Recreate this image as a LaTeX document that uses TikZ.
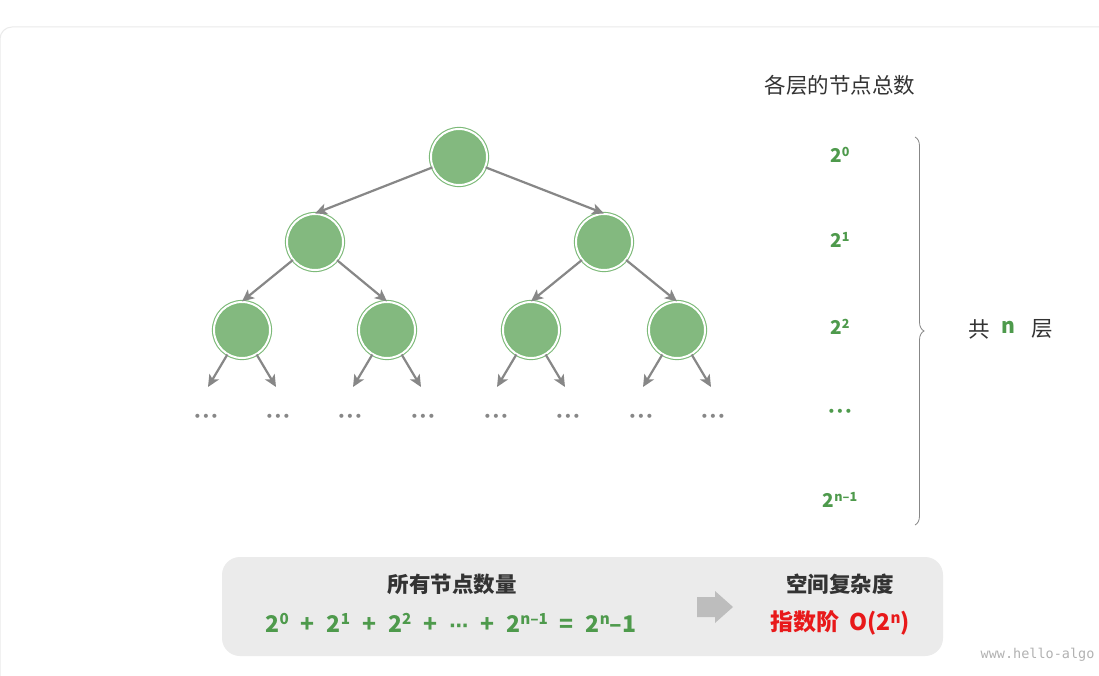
\documentclass[tikz,border=0pt]{standalone}
\usepackage{fontspec}
\setmainfont{Noto Sans CJK SC}
\newfontfamily\monof{DejaVu Sans Mono}
\newfontfamily\djv{DejaVu Sans}
\usetikzlibrary{decorations.pathreplacing,arrows.meta}
\definecolor{nodefill}{HTML}{83B97F}
\definecolor{ring}{HTML}{7DBA79}
\definecolor{arrgray}{HTML}{878787}
\definecolor{gtext}{HTML}{4E9A4C}
\definecolor{dark}{HTML}{333333}
\definecolor{redt}{HTML}{E8191A}
\definecolor{boxfill}{HTML}{EBEBEB}
\newcommand{\supr}[1]{\raisebox{0.6ex}{\scalebox{0.66}{#1}}}
\newcommand{\threedots}{{\djv\fontsize{14}{14}\selectfont •\kern0.3pt•\kern0.3pt•}}
\tikzset{
  tnode/.style={circle, minimum size=56pt, inner sep=0pt, fill=nodefill, draw=ring, line width=1.1pt, double=white, double distance=2pt},
  arr/.style={draw=arrgray, line width=2.2pt, -{Stealth[length=12pt,width=11pt,inset=3pt]}},
  dots/.style={text=arrgray},
  lbl/.style={text=gtext, font=\bfseries\fontsize{19}{19}\selectfont},
  hdr/.style={text=dark, font=\fontsize{21.5}{21.5}\selectfont},
}
\begin{document}
\begin{tikzpicture}[x=1pt,y=-1pt]
\useasboundingbox (0,0) rectangle (1099,676);
\fill[white] (0,0) rectangle (1099,676);
\draw[draw=black!8, line width=1pt, rounded corners=12pt] (0,700) -- (0,27) -- (1120,27);
% tree
\node[tnode] (r) at (459,157) {};
\node[tnode] (a) at (315,242) {};
\node[tnode] (b) at (604,242) {};
\node[tnode] (c) at (242,330) {};
\node[tnode] (d) at (387,330) {};
\node[tnode] (e) at (531,330) {};
\node[tnode] (f) at (677,330) {};
\draw[arr] (r) -- (a.north);
\draw[arr] (r) -- (b.north);
\draw[arr] (a) -- (c.north);
\draw[arr] (a) -- (d.north);
\draw[arr] (b) -- (e.north);
\draw[arr] (b) -- (f.north);
\foreach \n/\x in {c/242,d/387,e/531,f/677}{
  \coordinate (\n L) at (\x-34,387);
  \coordinate (\n R) at (\x+34,387);
  \draw[arr] (\n) -- (\n L);
  \draw[arr] (\n) -- (\n R);
}
\foreach \i/\x in {1/206,2/278,3/350,4/423,5/496,6/568,7/641,8/713}{
  \node[dots] (dd\i) at (\x,418) {\threedots};
}
% right column
\node[hdr] (title) at (840,85) {各层的节点总数};
\node[lbl] (p0) at (840,155) {2\supr{0}};
\node[lbl] (p1) at (840,240) {2\supr{1}};
\node[lbl] (p2) at (840,327) {2\supr{2}};
\node[text=gtext] (p3) at (840,413) {\threedots};
\node[lbl] (p4) at (840,500) {2\supr{n–1}};
\coordinate (bt) at (915,137);
\coordinate (bb) at (915,525);
\draw[arrgray, line width=0.8pt, decorate, decoration={brace, amplitude=9pt, aspect=0.5}] (bt) -- (bb);
\node[hdr, anchor=west] (gong) at (965,329) {共};
\node[lbl, font=\bfseries\fontsize{21}{21}\selectfont] (nn) at (1008,327) {n};
\node[hdr, anchor=west] (ceng) at (1028,329) {层};
% bottom box
\node[fill=boxfill, rounded corners=18pt, minimum width=721pt, minimum height=99pt, inner sep=0pt] (box) at (582.5,606.5) {};
\node[text=dark, font=\bfseries\fontsize{21.5}{21.5}\selectfont] (t1) at (452,584) {所有节点数量};
\node[lbl, font=\bfseries\fontsize{23}{23}\selectfont] (eq) at (451,623) {2\supr{0}\hspace{12pt}+\hspace{12pt}2\supr{1}\hspace{12pt}+\hspace{12pt}2\supr{2}\hspace{12pt}+\hspace{12pt}{\djv\fontsize{19}{19}\selectfont ⋯}\hspace{12pt}+\hspace{12pt}2\supr{n–1}\hspace{12pt}=\hspace{12pt}2\supr{n}–1};
\coordinate (a1) at (697,597);
\coordinate (a2) at (715,597);
\coordinate (a3) at (715,591);
\coordinate (a4) at (733,607);
\coordinate (a5) at (715,623);
\coordinate (a6) at (715,617);
\coordinate (a7) at (697,617);
\fill[black!26] (a1) -- (a2) -- (a3) -- (a4) -- (a5) -- (a6) -- (a7) -- cycle;
\node[text=dark, font=\bfseries\fontsize{21.5}{21.5}\selectfont] (t2) at (840,584) {空间复杂度};
\node[text=redt, font=\bfseries\fontsize{23}{23}\selectfont] (t3) at (840,623) {指数阶\hspace{10pt}O(2\supr{n})};
\node[text=black!30, font=\monof\fontsize{13.5}{13.5}\selectfont, anchor=east] (wm) at (1098,655) {www.hello-algo};
\end{tikzpicture}
\end{document}
